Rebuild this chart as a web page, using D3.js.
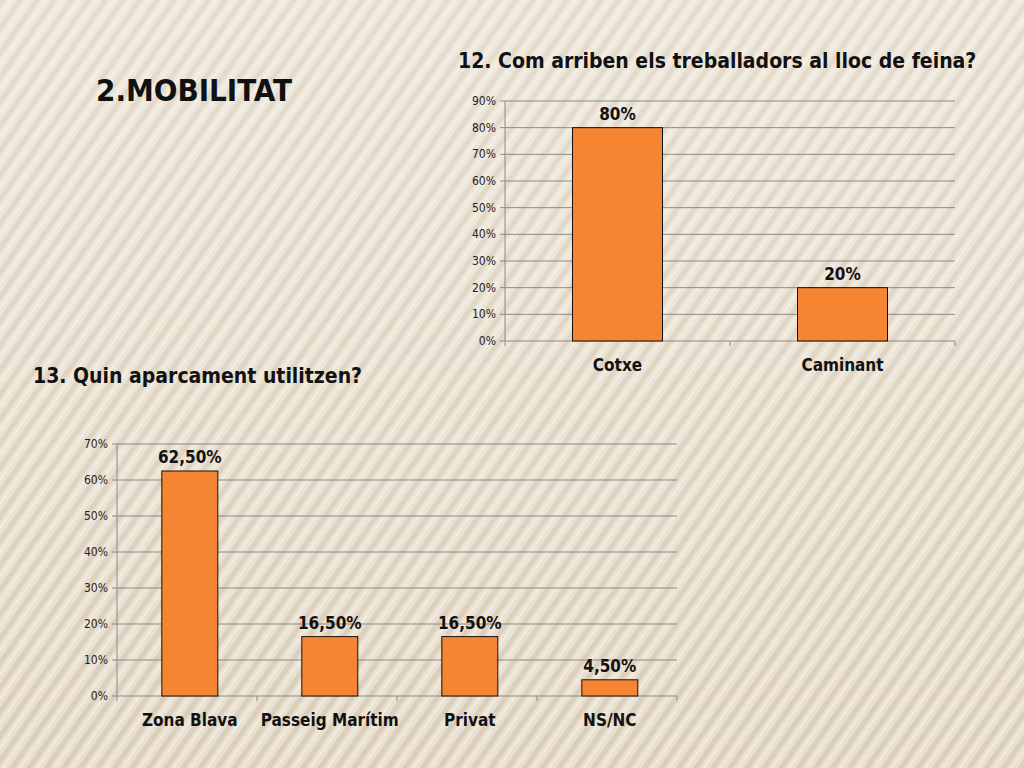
<!DOCTYPE html>
<html><head><meta charset="utf-8">
<script src="https://cdn.jsdelivr.net/npm/d3@7"></script>
<style>body{margin:0;}text{font-family:"Liberation Sans Narrow","DejaVu Sans Condensed",sans-serif;}</style>
</head><body>
<script>
var cats1 = ['Cotxe', 'Caminant'];
var vals1 = [80, 20];
var labels1 = ['80%', '20%'];
var cats2 = ['Zona Blava', 'Passeig Marítim', 'Privat', 'NS/NC'];
var vals2 = [62.5, 16.5, 16.5, 4.5];
var labels2 = ['62,50%', '16,50%', '16,50%', '4,50%'];

var svg = d3.select('body').append('svg').attr('width', 1024).attr('height', 768);
var defs = svg.append('defs');
var pat = defs.append('pattern').attr('id', 'stripes').attr('patternUnits', 'userSpaceOnUse')
  .attr('width', 14).attr('height', 14).attr('patternTransform', 'rotate(35)');
pat.append('rect').attr('width', 14).attr('height', 14).attr('fill', '#e6dccb');
pat.append('rect').attr('width', 5).attr('height', 14).attr('fill', '#d6c9b2');
pat.append('rect').attr('x', 8).attr('width', 2).attr('height', 14).attr('fill', '#f0e8da');
svg.append('rect').attr('width', 1024).attr('height', 768).attr('fill', 'url(#stripes)');
var grad = defs.append('linearGradient').attr('id', 'fade').attr('x1', 0).attr('y1', 0).attr('x2', 0).attr('y2', 1);
grad.append('stop').attr('offset', 0).attr('stop-color', '#fff').attr('stop-opacity', 0.35);
grad.append('stop').attr('offset', 1).attr('stop-color', '#fff').attr('stop-opacity', 0.1);
svg.append('rect').attr('width', 1024).attr('height', 768).attr('fill', 'url(#fade)');

svg.append('text').attr('x', 96).attr('y', 101).attr('font-size', 31).attr('font-weight', 'bold')
  .attr('fill', '#111').text('2.MOBILITAT');

function chart(cats, vals, labels, opt) {
  var g = svg.append('g').attr('transform', 'translate(' + opt.left + ',' + opt.top + ')');
  var xb = d3.scaleBand().domain(cats).range([0, opt.w]);
  var bw = xb.bandwidth() * 0.4;
  function bx(c) { return xb(c) + xb.bandwidth() * opt.off; }
  var y = d3.scaleLinear().domain([0, opt.max]).range([opt.h, 0]);
  var ticks = d3.range(0, opt.max + 1, 10);
  g.selectAll('.grid').data(ticks).enter().append('line')
    .attr('x1', 0).attr('x2', opt.w).attr('y1', function(d) { return y(d); }).attr('y2', function(d) { return y(d); })
    .attr('stroke', '#8a8a8a').attr('stroke-width', 1);
  g.append('line').attr('x1', 0).attr('x2', 0).attr('y1', 0).attr('y2', opt.h).attr('stroke', '#8a8a8a');
  g.selectAll('.tk').data(ticks).enter().append('line')
    .attr('x1', -5).attr('x2', 0).attr('y1', function(d) { return y(d); }).attr('y2', function(d) { return y(d); })
    .attr('stroke', '#8a8a8a');
  g.selectAll('.tl').data(ticks).enter().append('text')
    .attr('x', -9).attr('y', function(d) { return y(d) + 4; }).attr('text-anchor', 'end')
    .attr('font-size', 12).attr('fill', '#222').text(function(d) { return d + '%'; });
  g.selectAll('.xt').data(cats.concat(['end'])).enter().append('line')
    .attr('x1', function(d, i) { return i * xb.bandwidth(); }).attr('x2', function(d, i) { return i * xb.bandwidth(); })
    .attr('y1', opt.h).attr('y2', opt.h + 5).attr('stroke', '#8a8a8a');
  g.selectAll('.bar').data(vals).enter().append('rect')
    .attr('x', function(d, i) { return bx(cats[i]); }).attr('width', bw)
    .attr('y', function(d) { return y(d); }).attr('height', function(d) { return opt.h - y(d); })
    .attr('fill', '#f68533').attr('stroke', '#111').attr('stroke-width', 1);
  g.selectAll('.vl').data(vals).enter().append('text')
    .attr('x', function(d, i) { return bx(cats[i]) + bw / 2; }).attr('y', function(d) { return y(d) - 8; })
    .attr('text-anchor', 'middle').attr('font-size', 17).attr('font-weight', 'bold').attr('fill', '#111')
    .text(function(d, i) { return labels[i]; });
  g.selectAll('.cl').data(cats).enter().append('text')
    .attr('x', function(d) { return bx(d) + bw / 2; }).attr('y', opt.h + 30)
    .attr('text-anchor', 'middle').attr('font-size', 17).attr('font-weight', 'bold').attr('fill', '#111')
    .text(function(d) { return d; });
  svg.append('text').attr('x', opt.tx).attr('y', opt.ty).attr('font-size', 21).attr('font-weight', 'bold')
    .attr('fill', '#111').text(opt.title);
}

chart(cats1, vals1, labels1, {left: 505, top: 101, w: 450, h: 240, max: 90, off: 0.3,
  title: '12. Com arriben els treballadors al lloc de feina?', tx: 458, ty: 68});
chart(cats2, vals2, labels2, {left: 117, top: 444, w: 560, h: 252, max: 70, off: 0.32,
  title: '13. Quin aparcament utilitzen?', tx: 33, ty: 383});
</script>
</body></html>
